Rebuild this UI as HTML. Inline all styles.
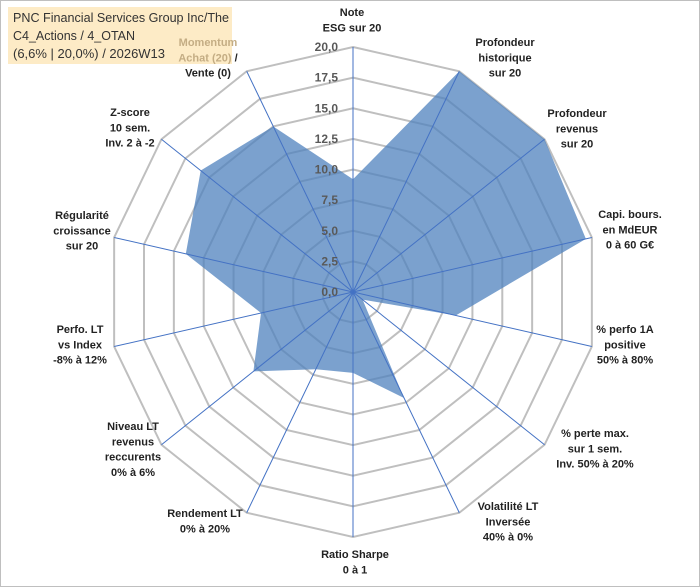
<!DOCTYPE html>
<html><head><meta charset="utf-8"><style>
body{margin:0;background:#fff}
svg{display:block;font-family:"Liberation Sans",sans-serif}
.l{font-size:11px;font-weight:bold;fill:#222;text-anchor:middle}
.t{font-size:12px;font-weight:bold;fill:#595959;text-anchor:end}
</style></head><body>
<svg id="c" width="700" height="587">
<rect x="0.5" y="0.5" width="699" height="586" fill="#fff" stroke="#bfbfbf"/>
<g id="grid"></g>
<rect x="8" y="7" width="224" height="57" fill="#fdebc6"/>
<g font-size="12.5" fill="#333">
<text x="13" y="22" textLength="216" lengthAdjust="spacingAndGlyphs">PNC Financial Services Group Inc/The</text>
<text x="13" y="40">C4_Actions / 4_OTAN</text>
<text x="13" y="58" textLength="152" lengthAdjust="spacingAndGlyphs">(6,6% | 20,0%) / 2026W13</text>
</g>
<g id="labels"></g>
</svg>
<script>
const categories=["Note ESG","Profondeur historique","Profondeur revenus","Capi. bours.","% perfo 1A","% perte max.","Volatilité LT","Ratio Sharpe","Rendement LT","Niveau LT revenus","Perfo. LT vs Index","Régularité croissance","Z-score","Momentum"];
const values=[9.2,20,20,19.5,8.6,1,9.6,6.6,7,10.4,7.7,14,15.9,15];
const tickValues=[0,2.5,5,7.5,10,12.5,15,17.5,20];
const tickLabels=["0,0","2,5","5,0","7,5","10,0","12,5","15,0","17,5","20,0"];
const labelLines=[["Note","ESG sur 20"],["Profondeur","historique","sur 20"],["Profondeur","revenus","sur 20"],["Capi. bours.","en MdEUR","0 à 60 G€"],["% perfo 1A","positive","50% à 80%"],["% perte max.","sur 1 sem.","Inv. 50% à 20%"],["Volatilité LT","Inversée","40% à 0%"],["Ratio Sharpe","0 à 1"],["Rendement LT","0% à 20%"],["Niveau LT","revenus","reccurents","0% à 6%"],["Perfo. LT","vs Index","-8% à 12%"],["Régularité","croissance","sur 20"],["Z-score","10 sem.","Inv. 2 à -2"],["Momentum","Achat (20) /","Vente (0)"]];
const labelPos=[[352,16],[505,46],[577,117],[630,218],[625,333],[595,437],[508,510],[355,558],[205,517],[133,430],[80,333],[82,219],[130,116],[208,46]];
const cx=353,cy=292,R=245,MAX=20;
const ns="http://www.w3.org/2000/svg";
const g=document.getElementById('grid'),lg=document.getElementById('labels');
const N=categories.length;
function pt(i,v){const a=2*Math.PI*i/N;const r=v/MAX*R;return [cx+r*Math.sin(a),cy-r*Math.cos(a)];}
function mk(t,p,par){const e=document.createElementNS(ns,t);for(const k in p)e.setAttribute(k,p[k]);par.appendChild(e);return e;}
tickValues.forEach((tv,k)=>{if(tv===0)return;
 const pts=categories.map((_,i)=>pt(i,tv).join(',')).join(' ');
 const e=mk('polygon',{points:pts,fill:'none',stroke:'#bfbfbf','stroke-width':2},g);
 
 
});
const poly=mk('polygon',{points:values.map((v,i)=>pt(i,v).join(',')).join(' '),fill:'rgba(79,129,189,0.75)',stroke:'none'},g);


categories.forEach((c,i)=>{const p=pt(i,MAX);
 const e=mk('line',{x1:cx,y1:cy,x2:p[0],y2:p[1],stroke:'#4472c4','stroke-width':1},g);
 
 
});
tickValues.forEach((tv,k)=>{const p=pt(0,tv);
 const e=mk('text',{x:cx-15,y:p[1]+4,class:'t'},g);e.textContent=tickLabels[k];
 
 
});
labelLines.forEach((lines,i)=>{const [x,y]=labelPos[i];
 const t=mk('text',{class:'l'},lg);
 
 
 lines.forEach((ln,j)=>{const s=mk('tspan',{x:x,y:y+j*15.3},t);
  if(i===13&&j<2){ if(j===0){s.textContent=ln;s.setAttribute('fill','#c4ad84');}
   else {s.textContent='Achat (20)';s.setAttribute('fill','#c4ad84');const s2=mk('tspan',{},t);s2.textContent=' /';}}
  else s.textContent=ln;});
});
</script>
</body></html>
